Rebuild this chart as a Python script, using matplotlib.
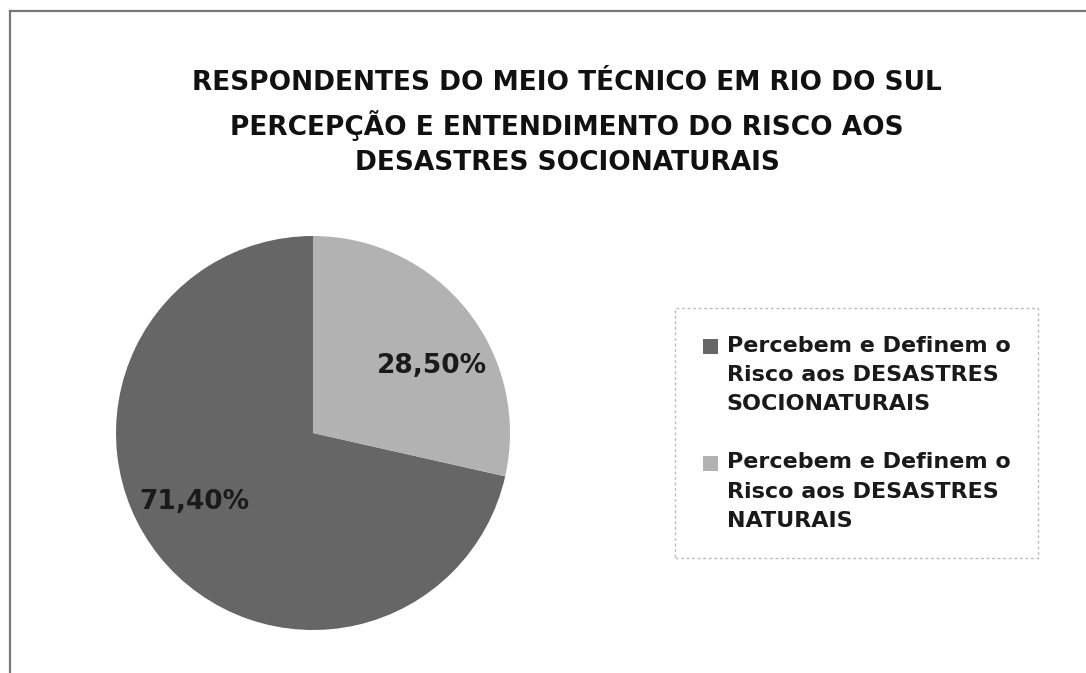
import matplotlib
matplotlib.use('Agg')
import matplotlib.pyplot as plt
from matplotlib.lines import Line2D
from matplotlib.patches import Patch, Rectangle

plt.rcParams['font.family'] = ['DejaVu Sans']

# ---------------- data ----------------
categories = ['Percebem e Definem o\nRisco aos DESASTRES\nSOCIONATURAIS',
              'Percebem e Definem o\nRisco aos DESASTRES\nNATURAIS']
values = [71.40, 28.50]
value_labels = ['71,40%', '28,50%']
colors = ['#666666', '#b2b2b2']
title_lines = ['RESPONDENTES DO MEIO TÉCNICO EM RIO DO SUL',
               'PERCEPÇÃO E ENTENDIMENTO DO RISCO AOS',
               'DESASTRES SOCIONATURAIS']

W, H = 1086, 673
fig = plt.figure(figsize=(W / 100, H / 100), dpi=100)
fig.patch.set_facecolor('white')

# outer frame (left + top edges only)
fig.add_artist(Line2D([9.5 / W, 9.5 / W], [0, 1 - 11 / H], color='#777777', lw=1.6))
fig.add_artist(Line2D([9.5 / W, 1], [1 - 11 / H, 1 - 11 / H], color='#777777', lw=1.6))

# ---------------- pie ----------------
cx, cy, r = 313, 433, 197
ax = fig.add_axes([(cx - r) / W, (H - cy - r) / H, 2 * r / W, 2 * r / H])
wedges, _ = ax.pie(values, colors=colors, startangle=90, counterclock=True,
                   radius=1, wedgeprops=dict(linewidth=0))
ax.set_xlim(-1, 1)
ax.set_ylim(-1, 1)
ax.set_aspect('equal')
ax.axis('off')

# percentage labels (baseline positions, data units)
label_pos = [(-0.60, -0.386), (0.604, 0.305)]
for (lx, ly), txt in zip(label_pos, value_labels):
    ax.text(lx, ly, txt, ha='center', va='baseline', fontsize=19,
            fontweight='bold', color='#1a1a1a')

# ---------------- titles ----------------
for txt, base in zip(title_lines, [90, 135, 170]):
    fig.text(567 / W, 1 - base / H, txt, ha='center', va='baseline',
             fontsize=19, fontweight='bold', color='#111111')

# ---------------- legend ----------------
LEG_FS = 16
LEG_LS = 1.57


class TopSquareHandler:
    """square marker aligned with the first line of a 3-line label"""
    def legend_artist(self, legend, orig_handle, fontsize, handlebox):
        step = fontsize * (0.70 * LEG_LS + 0.208)
        size = handlebox.width
        sq = Rectangle((-handlebox.xdescent, step - handlebox.ydescent), size, size,
                       facecolor=orig_handle.get_facecolor(), edgecolor='none',
                       transform=handlebox.get_transform())
        handlebox.add_artist(sq)
        return sq


handles = [Patch(facecolor=c, edgecolor='none') for c in colors]
leg = fig.legend(handles, categories, loc='upper left',
                 bbox_to_anchor=(675 / W, 1 - 308 / H),
                 frameon=True, fancybox=False,
                 prop=dict(weight='bold', size=LEG_FS),
                 handler_map={Patch: TopSquareHandler()},
                 handlelength=0.675, handleheight=0.7, handletextpad=0.4,
                 labelspacing=1.73, borderpad=1.25, borderaxespad=0)
frame = leg.get_frame()
frame.set_linestyle((0, (2, 2)))
frame.set_edgecolor('#aaaaaa')
frame.set_linewidth(1.0)
for t in leg.get_texts():
    t.set_color('#1a1a1a')
    t.set_linespacing(LEG_LS)

fig.savefig('out.png', dpi=100, facecolor='white')
